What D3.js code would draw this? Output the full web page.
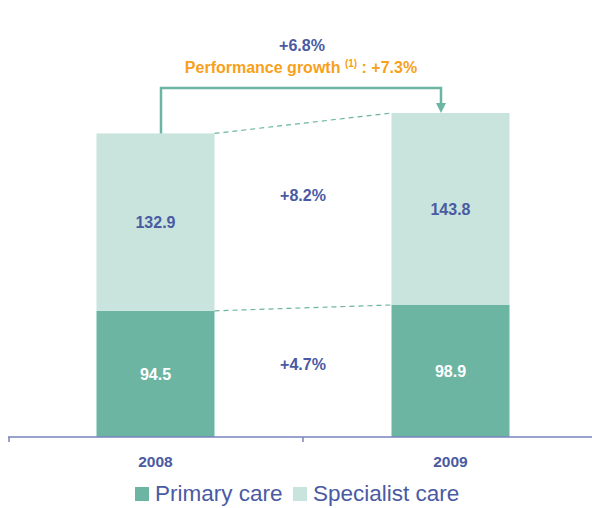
<!DOCTYPE html>
<html lang="en">
<head>
    <meta charset="UTF-8">
    <title>Primary and specialist care</title>
    <style>
        body { margin: 0; background: #fff; }
        svg text { font-family: 'Liberation Sans', Arial, sans-serif; }
    </style>
    <script src="https://d3js.org/d3.v7.min.js"></script>
</head>
<body>
    <svg width="592" height="508"></svg>
    <script>
        const years = ["2008", "2009"];
        const primary = [94.5, 98.9];
        const specialist = [132.9, 143.8];
        const growthLabels = ["+4.7%", "+8.2%"];
        const totalGrowth = "+6.8%";
        const perfGrowth = "+7.3%";
        const seriesNames = ["Primary care", "Specialist care"];

        const blue = "#4a5aa3";
        const orange = "#f7a11a";
        const colors = ["#6db5a3", "#c8e4dc"];

        const data = years.map((y, i) => ({ year: y, "Primary care": primary[i], "Specialist care": specialist[i] }));

        const svg = d3.select("svg");

        const x = d3.scaleBand()
            .domain(years)
            .range([8, 598])
            .paddingInner(0.6)
            .paddingOuter(0.3);

        const y = d3.scaleLinear()
            .domain([0, 242.7])
            .range([437, 113]);

        const series = d3.stack().keys(seriesNames)(data);

        // bars
        svg.selectAll("g.layer")
            .data(series)
            .enter().append("g")
            .attr("class", "layer")
            .attr("fill", (d, i) => colors[i])
            .selectAll("rect")
            .data(d => d)
            .enter().append("rect")
            .attr("x", d => x(d.data.year))
            .attr("y", d => y(d[1]))
            .attr("width", x.bandwidth())
            .attr("height", d => y(d[0]) - y(d[1]));

        // dashed connectors between segment tops
        series.forEach(s => {
            svg.append("line")
                .attr("x1", x(years[0]) + x.bandwidth())
                .attr("y1", y(s[0][1]))
                .attr("x2", x(years[1]))
                .attr("y2", y(s[1][1]))
                .attr("stroke", colors[0])
                .attr("stroke-width", 1.2)
                .attr("stroke-dasharray", "5,4");
        });

        // segment labels
        series.forEach((s, si) => {
            s.forEach(d => {
                svg.append("text")
                    .attr("x", x(d.data.year) + x.bandwidth() / 2)
                    .attr("y", (y(d[0]) + y(d[1])) / 2 + 6)
                    .attr("text-anchor", "middle")
                    .style("font-size", "16px")
                    .style("font-weight", "700")
                    .style("fill", si === 0 ? "#fff" : blue)
                    .text((d[1] - d[0]).toFixed(1));
            });
        });

        // growth labels between bars
        const midX = (x(years[0]) + x.bandwidth() + x(years[1])) / 2;
        const growthY = [y(50), y(177)];
        growthLabels.forEach((g, i) => {
            svg.append("text")
                .attr("x", midX)
                .attr("y", growthY[i])
                .attr("text-anchor", "middle")
                .style("font-size", "16px")
                .style("font-weight", "700")
                .style("fill", blue)
                .text(g);
        });

        // axis
        const axis = svg.append("g").attr("transform", "translate(0,437)");
        axis.append("line")
            .attr("x1", 8).attr("x2", 592)
            .attr("stroke", "#7785bd").attr("stroke-width", 1.5);
        const edges = [9, midX, x.range()[1]];
        axis.selectAll("line.tick")
            .data(edges)
            .enter().append("line")
            .attr("class", "tick")
            .attr("x1", d => d).attr("x2", d => d)
            .attr("y1", 0).attr("y2", 5)
            .attr("stroke", "#7785bd")
            .attr("stroke-width", 1.5);

        svg.selectAll("text.year")
            .data(years)
            .enter().append("text")
            .attr("class", "year")
            .attr("x", d => x(d) + x.bandwidth() / 2)
            .attr("y", 467)
            .attr("text-anchor", "middle")
            .style("font-size", "15.5px")
            .style("font-weight", "700")
            .style("fill", blue)
            .text(d => d);

        // growth arrow
        const topY = 88;
        const ax1 = 161, ax2 = 441;
        svg.append("path")
            .attr("d", `M${ax1},${y(series[1][0][1])} V${topY} H${ax2} V${y(series[1][1][1]) - 9}`)
            .attr("fill", "none")
            .attr("stroke", colors[0])
            .attr("stroke-width", 2.5);
        svg.append("path")
            .attr("d", `M${ax2 - 5},${y(series[1][1][1]) - 10} L${ax2 + 5},${y(series[1][1][1]) - 10} L${ax2},${y(series[1][1][1])} Z`)
            .attr("fill", colors[0]);

        svg.append("text")
            .attr("x", 302).attr("y", 51)
            .attr("text-anchor", "middle")
            .style("font-size", "16px").style("font-weight", "700")
            .style("fill", blue)
            .text(totalGrowth);

        const perf = svg.append("text")
            .attr("x", 301).attr("y", 73)
            .attr("text-anchor", "middle")
            .style("font-size", "16px").style("font-weight", "700")
            .style("fill", orange);
        perf.append("tspan").text("Performance growth ");
        perf.append("tspan").attr("dy", -6).style("font-size", "10px").text("(1)");
        perf.append("tspan").attr("dy", 6).text(" : " + perfGrowth);

        // legend
        const legend = svg.append("g").attr("transform", "translate(135,494)");
        const lx = [0, 158];
        seriesNames.forEach((n, i) => {
            legend.append("rect")
                .attr("x", lx[i]).attr("y", -7)
                .attr("width", 14).attr("height", 14)
                .attr("fill", colors[i]);
            legend.append("text")
                .attr("x", lx[i] + 20).attr("y", 7)
                .style("font-size", "22.5px")
                .style("fill", blue)
                .text(n);
        });
    </script>
</body>
</html>
